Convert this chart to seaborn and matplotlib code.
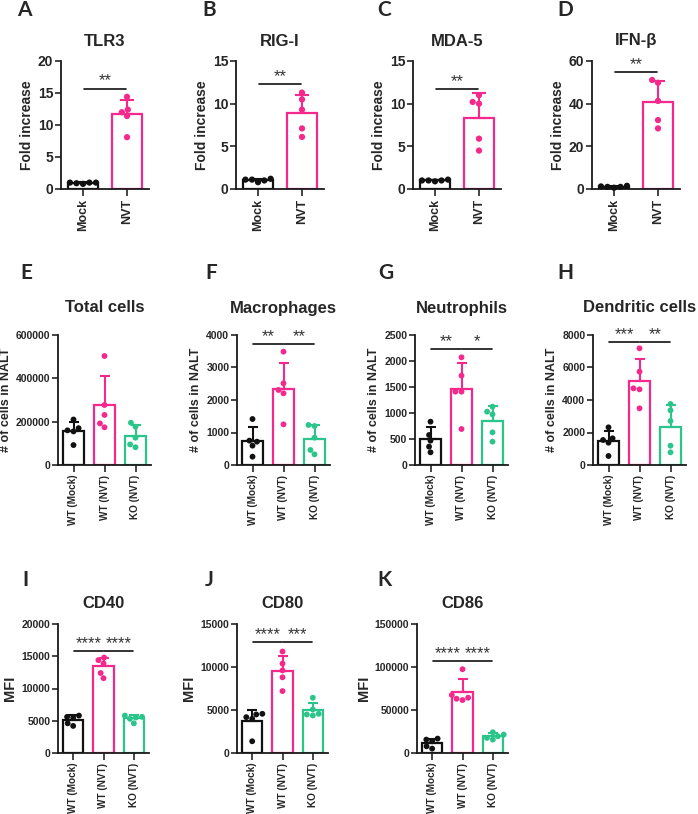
import numpy as np
import pandas as pd
import matplotlib
matplotlib.use("Agg")
import matplotlib.pyplot as plt
from matplotlib.ticker import FuncFormatter
import seaborn as sns

# group labels and colours
groups_2 = ["Mock", "NVT"]
groups_3 = ["WT (Mock)", "WT (NVT)", "KO (NVT)"]
colors_2 = ["#111111", "#F5288C"]
colors_3 = ["#111111", "#F5288C", "#2BC48A"]

# A-D: fold increase (5 mice per group)
tlr3_mock = [0.9, 1.0, 1.0, 1.0, 0.8]
tlr3_nvt = [14.4, 12.4, 12.0, 11.4, 8.1]
rigi_mock = [1.0, 1.2, 1.1, 1.1, 0.8]
rigi_nvt = [11.3, 10.5, 9.3, 7.1, 6.1]
mda5_mock = [1.0, 1.1, 1.0, 1.0, 0.9]
mda5_nvt = [11.0, 10.0, 10.2, 5.9, 4.5]
ifnb_mock = [1.0, 1.5, 1.2, 1.0, 0.6]
ifnb_nvt = [51.1, 49.8, 41.3, 32.3, 28.4]

# E-H: number of cells in NALT
total_wt_mock = [210000, 170000, 160000, 155000, 92000]
total_wt_nvt = [503000, 277000, 231000, 192000, 174000]
total_ko_nvt = [195000, 177000, 126000, 82000, 95000]
macro_wt_mock = [1415, 750, 718, 595, 256]
macro_wt_nvt = [3487, 2513, 2308, 2205, 1251]
macro_ko_nvt = [1231, 1200, 841, 462, 328]
neut_wt_mock = [833, 577, 468, 353, 244]
neut_wt_nvt = [2071, 1718, 1410, 1410, 692]
neut_ko_nvt = [1122, 1026, 974, 628, 449]
dc_wt_mock = [2318, 1641, 1538, 1374, 554]
dc_wt_nvt = [7179, 5744, 4718, 4656, 3487]
dc_ko_nvt = [3754, 3364, 2708, 1190, 779]

# I-K: MFI
cd40_wt_mock = [5800, 5600, 5500, 4600, 4200]
cd40_wt_nvt = [14800, 14400, 13900, 12400, 11600]
cd40_ko_nvt = [5800, 5600, 5500, 5300, 4600]
cd80_wt_mock = [4558, 4480, 4168, 3974, 1364]
cd80_wt_nvt = [11800, 10400, 9600, 8800, 7200]
cd80_ko_nvt = [6428, 5064, 4558, 4480, 4363]
cd86_wt_mock = [16750, 15580, 13630, 7790, 5060]
cd86_wt_nvt = [97400, 67400, 64280, 61550, 63100]
cd86_ko_nvt = [24150, 21430, 19480, 17530, 15580]

sns.set_style("ticks")
plt.rcParams['font.family'] = ['Liberation Sans', 'DejaVu Sans']
plt.rcParams['font.weight'] = 'bold'
plt.rcParams['axes.labelweight'] = 'bold'

W, H = 698, 814
fig = plt.figure(figsize=(W / 100, H / 100), dpi=100)


def add_ax(left, top, width, bottom):
    return fig.add_axes([left / W, 1 - bottom / H, width / W, (bottom - top) / H])


def draw_panel(ax, groups, values, colors, ymax, step, ylabel, sigs, sig_y,
               tick_fs, xtick_fs, ylab_fs, dot, cap):
    df = pd.DataFrame({
        "group": np.repeat(groups, [len(v) for v in values]),
        "value": np.concatenate(values).astype(float),
    })
    sns.barplot(data=df, x="group", y="value", hue="group", order=groups,
                hue_order=groups, palette=colors, errorbar=None, fill=False,
                width=0.68, linewidth=1.6, legend=False, ax=ax)
    sns.swarmplot(data=df, x="group", y="value", hue="group", order=groups,
                  hue_order=groups, palette=colors, size=dot, legend=False,
                  ax=ax, clip_on=False)
    stats = df.groupby("group", sort=False)["value"].agg(["mean", "std"])
    for i, g in enumerate(groups):
        ax.errorbar(i, stats.loc[g, "mean"], yerr=[[0], [stats.loc[g, "std"]]],
                    fmt="none", ecolor=colors[i], elinewidth=1.5,
                    capsize=cap, capthick=1.5, zorder=5)
    for x0, x1, stars in sigs:
        ax.plot([x0 + 0.02, x1 - 0.02], [sig_y, sig_y], color="#111111", lw=1.2)
        ax.text((x0 + x1) / 2, sig_y, stars, ha="center", va="bottom",
                fontsize=12, color="#333333", fontweight="normal")

    ax.set_ylim(0, ymax)
    ax.set_xlim(-0.5, len(groups) - 0.5)
    ax.set_yticks(np.arange(0, ymax + step / 2, step))
    ax.yaxis.set_major_formatter(FuncFormatter(lambda v, p: f"{int(round(v))}"))
    ax.set_xlabel("")
    ax.set_ylabel(ylabel, fontsize=ylab_fs, labelpad=3)
    ax.tick_params(axis="y", labelsize=tick_fs, length=4, width=1.2, pad=1.5)
    ax.tick_params(axis="x", labelsize=xtick_fs, length=5, width=1.2,
                   labelrotation=90, pad=2)
    for lab in ax.get_xticklabels() + ax.get_yticklabels():
        lab.set_fontweight("bold")
    for s in ["left", "bottom"]:
        ax.spines[s].set_linewidth(1.3)
        ax.spines[s].set_color("#1a1a1a")
    sns.despine(ax=ax)


panels = [
    # letter, title, groups, values, colors, ymax, step, ylabel, sigs, sig_y, box, letter_xy, title_y
    ("A", "TLR3", groups_2, [tlr3_mock, tlr3_nvt], colors_2, 20, 5, "Fold increase",
     [(0, 1, "**")], 15.7, (61, 61, 88, 189), (17, 10), 41),
    ("B", "RIG-I", groups_2, [rigi_mock, rigi_nvt], colors_2, 15, 5, "Fold increase",
     [(0, 1, "**")], 12.3, (236, 61, 88, 189), (202, 10), 41),
    ("C", "MDA-5", groups_2, [mda5_mock, mda5_nvt], colors_2, 15, 5, "Fold increase",
     [(0, 1, "**")], 11.7, (413, 61, 88, 189), (377, 10), 41),
    ("D", "IFN-β", groups_2, [ifnb_mock, ifnb_nvt], colors_2, 60, 20, "Fold increase",
     [(0, 1, "**")], 55, (592, 61, 88, 189), (557, 10), 41),
    ("E", "Total cells", groups_3, [total_wt_mock, total_wt_nvt, total_ko_nvt], colors_3,
     600000, 200000, "# of cells in NALT", [], None, (58, 335, 93, 465), (20, 273), 308),
    ("F", "Macrophages", groups_3, [macro_wt_mock, macro_wt_nvt, macro_ko_nvt], colors_3,
     4000, 1000, "# of cells in NALT", [(0, 1, "**"), (1, 2, "**")], 3713,
     (237, 335, 93, 465), (205, 273), 308),
    ("G", "Neutrophils", groups_3, [neut_wt_mock, neut_wt_nvt, neut_ko_nvt], colors_3,
     2500, 500, "# of cells in NALT", [(0, 1, "**"), (1, 2, "*")], 2231,
     (415, 335, 93, 465), (378, 273), 308),
    ("H", "Dendritic cells", groups_3, [dc_wt_mock, dc_wt_nvt, dc_ko_nvt], colors_3,
     8000, 2000, "# of cells in NALT", [(0, 1, "***"), (1, 2, "**")], 7549,
     (593, 335, 93, 465), (557, 273), 308),
    ("I", "CD40", groups_3, [cd40_wt_mock, cd40_wt_nvt, cd40_ko_nvt], colors_3,
     20000, 5000, "MFI", [(0, 1, "****"), (1, 2, "****")], 15866,
     (58, 624, 91, 753), (22, 580), 604),
    ("J", "CD80", groups_3, [cd80_wt_mock, cd80_wt_nvt, cd80_ko_nvt], colors_3,
     15000, 5000, "MFI", [(0, 1, "****"), (1, 2, "***")], 12855,
     (237, 624, 91, 753), (205, 580), 604),
    ("K", "CD86", groups_3, [cd86_wt_mock, cd86_wt_nvt, cd86_ko_nvt], colors_3,
     150000, 50000, "MFI", [(0, 1, "****"), (1, 2, "****")], 107100,
     (417, 624, 91, 753), (377, 580), 604),
]

for (letter, title, groups, values, colors, ymax, step, ylabel, sigs, sig_y,
     box, letter_xy, title_y) in panels:
    left, top, width, bottom = box
    ax = add_ax(left, top, width, bottom)
    row1 = len(groups) == 2
    draw_panel(ax, groups, values, colors, ymax, step, ylabel, sigs, sig_y,
               tick_fs=10 if row1 else 7.5, xtick_fs=9 if row1 else 7.2,
               ylab_fs=10 if row1 else 10.5 if ylabel == "MFI" else 9,
               dot=4.5 if row1 else 4.2, cap=4.7 if row1 else 3.8)
    fig.text((left + width / 2) / W, 1 - title_y / H, title, ha="center",
             va="center", fontsize=12, fontweight="bold")
    fig.text(letter_xy[0] / W, 1 - letter_xy[1] / H, letter, ha="left",
             va="center", fontsize=15, fontweight="bold", family=["Lato", "DejaVu Sans"])

fig.savefig("out.png", dpi=100)
